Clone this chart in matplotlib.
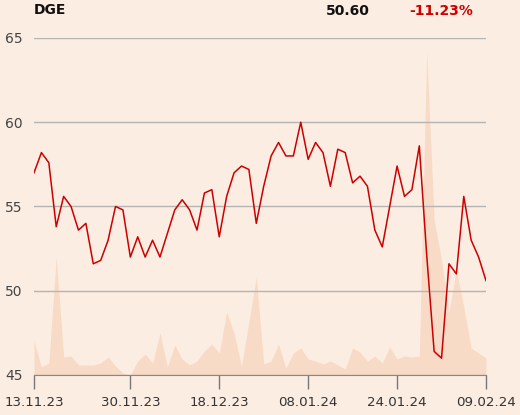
import matplotlib
matplotlib.use("Agg")
import matplotlib.pyplot as plt
import pandas as pd

BG = "#fcede2"
RED = "#cc0000"
VOL_COLOR = "#f8dbc6"

# trading days (UK), 13.11.23 - 09.02.24
dates = [d for d in pd.bdate_range("2023-11-13", "2024-02-09")
         if d.strftime("%m-%d") not in ("12-25", "12-26", "01-01")]

prices = [57.0, 58.2, 57.6, 53.8, 55.6, 55.0, 53.6, 54.0, 51.6, 51.8,
          53.0, 55.0, 54.8, 52.0, 53.2, 52.0, 53.0, 52.0, 53.4, 54.8,
          55.4, 54.8, 53.6, 55.8, 56.0, 53.2, 55.6, 57.0, 57.4, 57.2,
          54.0, 56.2, 58.0, 58.8, 58.0, 58.0, 60.0, 57.8, 58.8, 58.2,
          56.2, 58.4, 58.2, 56.4, 56.8, 56.2, 53.6, 52.6, 55.0, 57.4,
          55.6, 56.0, 58.6, 52.1, 46.4, 46.0, 51.6, 51.0, 55.6, 53.0,
          52.0, 50.6]

# volume in millions
volume = [3.4, 0.8, 1.2, 11.8, 1.8, 1.9, 1.0, 1.0, 1.0, 1.2,
          1.8, 0.9, 0.2, 0.0, 1.4, 2.1, 1.2, 4.2, 0.8, 3.0,
          1.6, 1.0, 1.4, 2.4, 3.1, 2.2, 6.3, 4.2, 0.9, 5.3,
          9.8, 1.1, 1.4, 3.1, 0.7, 2.2, 2.7, 1.6, 1.4, 1.1,
          1.4, 1.0, 0.6, 2.7, 2.3, 1.4, 1.9, 1.2, 2.8, 1.6,
          1.9, 1.8, 1.9, 32.4, 15.5, 11.5, 6.3, 10.5, 6.8, 2.7,
          2.2, 1.7]

tick_labels = ["13.11.23", "30.11.23", "18.12.23", "08.01.24", "24.01.24", "09.02.24"]
y_ticks = [45, 50, 55, 60, 65]

ticker = "DGE"
last_price = "50.60"
change = "-11.23%"

x = list(range(len(dates)))
labels = [d.strftime("%d.%m.%y") for d in dates]
tick_pos = [labels.index(t) for t in tick_labels]

fig = plt.figure(figsize=(5.2, 4.15), dpi=100, facecolor=BG)
ax = fig.add_axes([34 / 520, 1 - 375 / 415, 452 / 520, 337 / 415])
ax2 = ax.twinx()

# volumen al fondo
ax2.fill_between(x, 0, volume, color=VOL_COLOR, linewidth=0)
ax2.set_ylim(0, 33.7)
ax2.axis("off")
ax.set_zorder(ax2.get_zorder() + 1)
ax.patch.set_visible(False)
ax2.set_facecolor(BG)

ax.plot(x, prices, color=RED, linewidth=1.1)
ax.set_xlim(0, len(x) - 1)
ax.set_ylim(45, 65)

ax.set_yticks(y_ticks)
ax.set_xticks(tick_pos)
ax.set_xticklabels(tick_labels)
ax.grid(axis="y", color="#b6b4b2", linewidth=1)
ax.tick_params(axis="y", length=0, pad=8, labelsize=10, labelcolor="#444444")
ax.tick_params(axis="x", length=10, width=1, color="#777777", pad=5,
               labelsize=9.6, labelcolor="#333333")
for s in ["top", "right", "left"]:
    ax.spines[s].set_visible(False)
ax.spines["bottom"].set_color("#888888")

fig.patch.set_facecolor(BG)
fig.text(34 / 520, 1 - 10 / 415, ticker, fontsize=10, fontweight="bold",
         color="#111111", ha="left", va="center")
fig.text(370 / 520, 1 - 11 / 415, last_price, fontsize=10, fontweight="bold",
         color="#111111", ha="right", va="center")
fig.text(473 / 520, 1 - 11 / 415, change, fontsize=10, fontweight="bold",
         color=RED, ha="right", va="center")

fig.savefig("out.png", dpi=100, facecolor=BG)
